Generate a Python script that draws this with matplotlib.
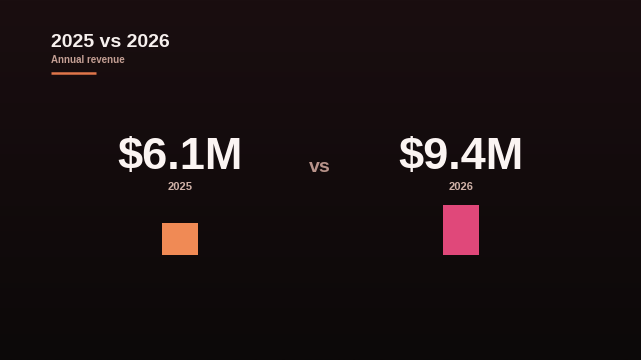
#!/usr/bin/env python3
# Two-year revenue comparison card: big numbers, "vs", small proportional bars.

import numpy as np
import matplotlib
matplotlib.use('Agg')
import matplotlib.pyplot as plt

years = ['2025', '2026']
revenue = [6.1, 9.4]  # $M
value_labels = ['$6.1M', '$9.4M']
bar_colors = ['#f08a55', '#e0487a']

W, H = 641, 360
plt.rcParams['font.family'] = ['Liberation Sans', 'DejaVu Sans']

fig = plt.figure(figsize=(W / 100, H / 100), dpi=100)

# background: dark vertical gradient
bg = fig.add_axes([0, 0, 1, 1])
grad = np.linspace(0, 1, 256).reshape(-1, 1)
top = np.array([0x1a, 0x0e, 0x10]) / 255
bottom = np.array([0x0c, 0x09, 0x09]) / 255
img = top + (bottom - top) * grad[:, :, None]
bg.imshow(img, aspect='auto', extent=[0, 1, 0, 1])
bg.set_axis_off()


def fx(px):
    return px / W


def fy(py):
    return 1 - py / H


# header
fig.text(fx(51), fy(47), '2025 vs 2026', fontsize=14, fontweight='bold',
         color='#f7f0ee', va='baseline', ha='left')
fig.text(fx(51), fy(63), 'Annual revenue', fontsize=7, fontweight='bold',
         color='#c49f94', va='baseline', ha='left')
bg.plot([fx(51), fx(96)], [fy(73), fy(73)], color='#e0764a', lw=1.8,
        solid_capstyle='butt')
bg.set_xlim(0, 1)
bg.set_ylim(0, 1)

# bars: baseline at y=255px, ~5.3 px per $M, centres 180px and 462px
base_px = 255
ax_h_px = 100
ax = fig.add_axes([0, fy(base_px), 1, ax_h_px / H])
spacing = 281
x0 = 180
ax.set_xlim(-x0 / spacing, (W - x0) / spacing)
ax.set_ylim(0, ax_h_px / 5.3)
xs = np.arange(len(years))
ax.bar(xs, revenue, width=36 / spacing, color=bar_colors)
ax.set_axis_off()

for i, (lab, yr) in enumerate(zip(value_labels, years)):
    cx = x0 + i * spacing
    fig.text(fx(cx), fy(168.5), lab, fontsize=32.5, fontweight='bold',
             color='#fbf4f2', ha='center', va='baseline')
    fig.text(fx(cx), fy(190), yr, fontsize=8, fontweight='bold',
             color='#cfb1a7', ha='center', va='baseline')

fig.text(fx(320), fy(171.5), 'vs', fontsize=14, fontweight='bold',
         color='#b8938a', ha='center', va='baseline')

fig.savefig('out.png', dpi=100)
